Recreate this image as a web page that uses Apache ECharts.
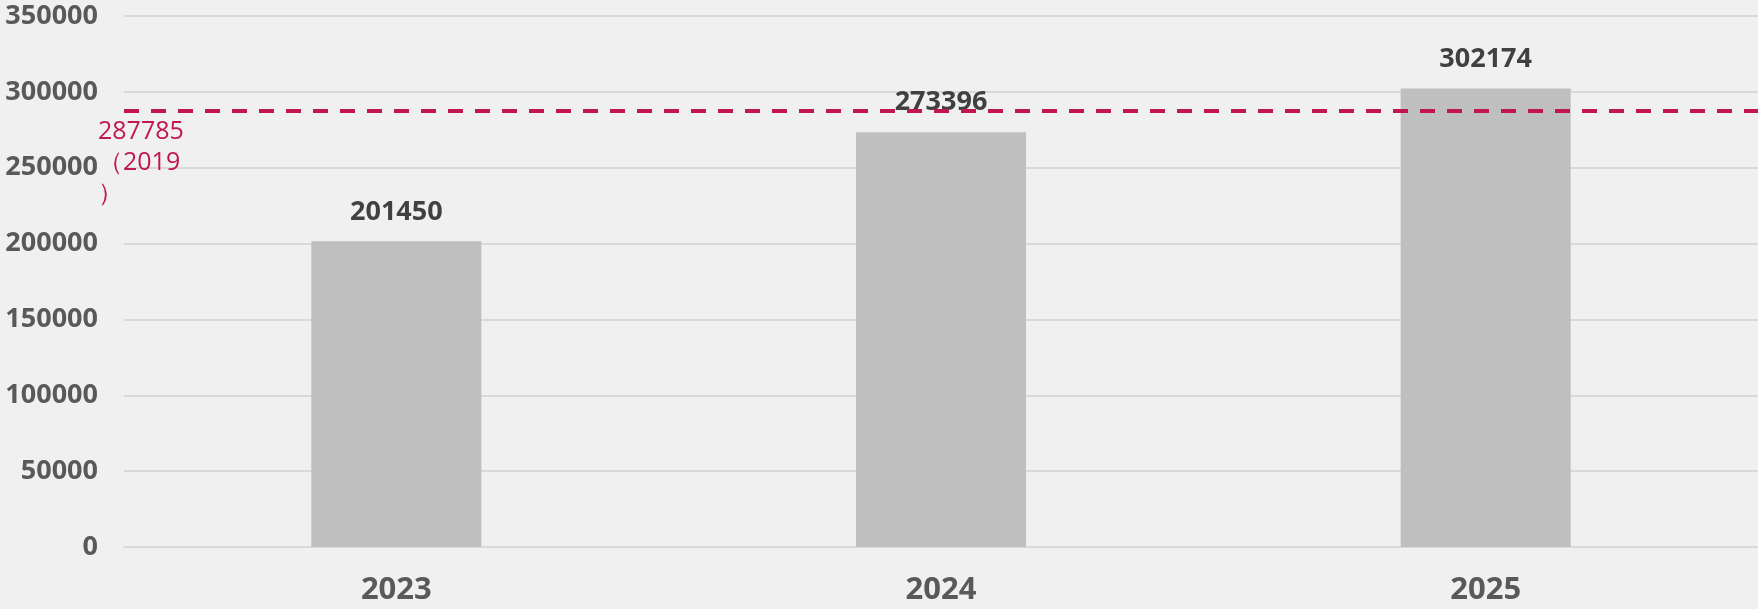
<!DOCTYPE html>
<html><head><meta charset="utf-8">
<script src="https://cdn.jsdelivr.net/npm/echarts@6/dist/echarts.min.js"></script>
<style>html,body{margin:0;padding:0;background:#f0f0f0}#c{width:1758px;height:609px}</style>
</head><body><div id="c"></div>
<script>
const categories = ['2023', '2024', '2025'];
const values = [201450, 273396, 302174];
const refValue = 287785;
const refLabelLines = ['287785', '（2019', '）'];
const yTicks = [0, 50000, 100000, 150000, 200000, 250000, 300000, 350000];

const chart = echarts.init(document.getElementById('c'));
chart.setOption({
  backgroundColor: '#f0f0f0',
  animation: false,
  grid: {left: 124, right: 0, top: 16, bottom: 62, containLabel: false},
  xAxis: {
    type: 'category', data: categories,
    axisLine: {lineStyle: {color: '#d9d9d9', width: 2}},
    axisTick: {show: false},
    axisLabel: {color: '#595959', fontSize: 31, fontWeight: 'bold', fontFamily: 'Open Sans', margin: 28}
  },
  yAxis: {
    type: 'value', min: yTicks[0], max: yTicks[yTicks.length - 1], interval: 50000,
    axisLine: {show: false}, axisTick: {show: false},
    splitLine: {lineStyle: {color: '#d9d9d9', width: 2}},
    axisLabel: {color: '#595959', fontSize: 27, fontWeight: 'bold', fontFamily: 'Open Sans', margin: 26,
      formatter: v => String(v)}
  },
  series: [{
    type: 'bar', data: values, barWidth: 170,
    itemStyle: {color: '#bfbfbf'},
    label: {show: true, position: 'top', distance: 16, color: '#404040', fontSize: 27, fontWeight: 'bold', fontFamily: 'Open Sans'},
    markLine: {
      silent: true, symbol: 'none',
      lineStyle: {color: '#c0184c', width: 4, type: [15, 12]},
      label: {
        show: true, position: 'insideStartBottom', formatter: refLabelLines.join('\n'),
        color: '#c0184c', fontSize: 25, fontFamily: 'Open Sans', lineHeight: 31,
        distance: 0, offset: [-26, 6], align: 'left', verticalAlign: 'top'
      },
      data: [{yAxis: refValue}]
    }
  }]
});
</script></body></html>
